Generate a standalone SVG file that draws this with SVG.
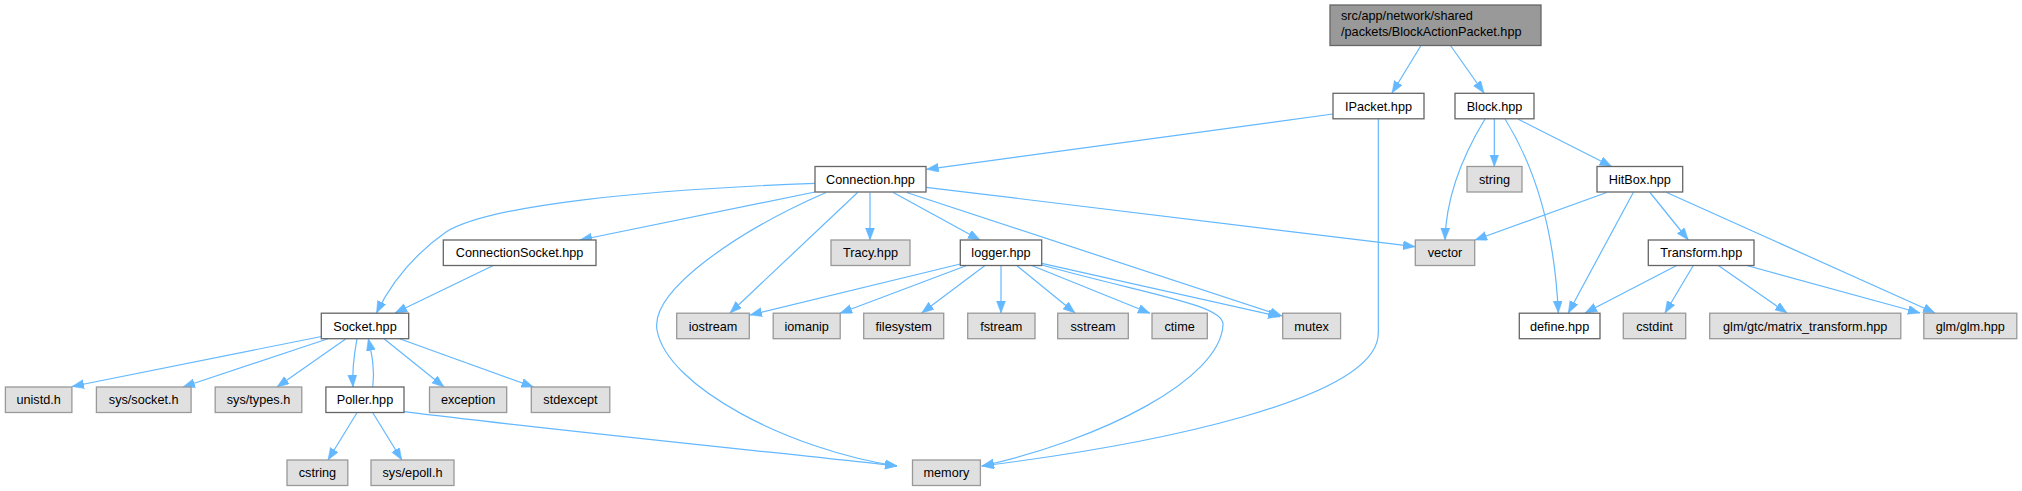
<svg xmlns="http://www.w3.org/2000/svg" width="2022" height="491" viewBox="0 0 2022 491">
<style>
.n rect{fill:#ffffff;stroke:#666666;stroke-width:1.3}
.g rect{fill:#e0e0e0;stroke:#999999;stroke-width:1.3}
.r rect{fill:#999999;stroke:#666666;stroke-width:1.3}
text{font-family:"Liberation Sans",Arial,sans-serif;font-size:12.7px;fill:#000000}
.n text,.g text{text-anchor:middle}
#edges path{fill:none;stroke:#63b8ff;stroke-width:1.2;marker-end:url(#ah)}
</style>
<defs>
<marker id="ah" markerUnits="userSpaceOnUse" markerWidth="13" markerHeight="10" refX="12" refY="4.5" orient="auto">
<path d="M0,0 L12,4.5 L0,9 Z" fill="#63b8ff" stroke="#63b8ff" stroke-width="0.5"/>
</marker>
</defs>
<rect x="0" y="0" width="2022" height="491" fill="#ffffff"/>
<g id="edges">
<path d="M1421,45.5 L1392,93"/>
<path d="M1450.5,45.5 L1484,93"/>
<path d="M1333,114 L926.7,169.3"/>
<path d="M1378.3,119 L1378.3,333 C1378.3,400 1150,445 981.7,466"/>
<path d="M1485,119 C1460,160 1446,200 1445,240"/>
<path d="M1494.3,119 L1494.3,166.5"/>
<path d="M1505,119 C1540,175 1555,240 1558.3,313"/>
<path d="M1518.3,119.3 L1611.7,166.5"/>
<path d="M1606.7,192.5 L1475,240"/>
<path d="M1633.3,192.5 L1568.3,313"/>
<path d="M1650,192.5 L1688.3,240"/>
<path d="M1666.7,192.5 L1935,313"/>
<path d="M1676.7,265.5 L1585,313"/>
<path d="M1693.3,265.5 L1665,313"/>
<path d="M1718.3,265.5 L1787,313"/>
<path d="M1746.7,265.5 L1920,313"/>
<path d="M815,183.3 C640,190 490,205 446,232 C412,256 390,285 376.5,313"/>
<path d="M815,192 L580,240"/>
<path d="M493.3,265.5 L395,313"/>
<path d="M826,192.5 C740,230 650,290 657,330 C667,387 790,450 897,466"/>
<path d="M857.6,192.5 L730,313"/>
<path d="M870,192.5 L870,240"/>
<path d="M893.3,192.5 L980,240"/>
<path d="M906.7,192.5 L1282,316"/>
<path d="M926,187.3 L1415,246.7"/>
<path d="M321.4,336.5 L72,386.5"/>
<path d="M328,338.7 L183,387"/>
<path d="M346,338.7 L277,387"/>
<path d="M357,338.7 C354,355 352,370 353,387"/>
<path d="M372.8,387 C375,370 372,355 368.3,338.7"/>
<path d="M384,338.7 L444,387"/>
<path d="M399.6,338.7 L533.5,387"/>
<path d="M357,412.7 L328,460"/>
<path d="M372.8,412.7 L401.8,460"/>
<path d="M404,411.7 C550,430 800,455 897,466"/>
<path d="M960.3,264 L750,315"/>
<path d="M966.7,265.5 L840,313.3"/>
<path d="M985,265.5 L921.7,313"/>
<path d="M1001,265.5 L1001,313"/>
<path d="M1016.7,265.5 L1075,313"/>
<path d="M1031.7,265.5 L1150,313.3"/>
<path d="M1041.7,263.3 L1280,316.7"/>
<path d="M1041.7,265 C1150,295 1225,305 1223,325 C1220,380 1100,440 982,466"/>
</g>
<g id="root" class="r"><rect x="1330" y="5" width="211" height="40.5"/><text x="1341" y="20.3">src/app/network/shared</text><text x="1341" y="36">/packets/BlockActionPacket.hpp</text></g>
<g id="ipacket" class="n"><rect x="1333" y="93.3" width="91" height="25.5"/><text x="1378.5" y="110.5">IPacket.hpp</text></g>
<g id="block" class="n"><rect x="1455" y="93.3" width="79" height="25.5"/><text x="1494.5" y="110.5">Block.hpp</text></g>
<g id="connection" class="n"><rect x="815" y="166.5" width="111" height="25.5"/><text x="870.5" y="183.8">Connection.hpp</text></g>
<g id="string" class="g"><rect x="1467" y="166.5" width="55" height="25.5"/><text x="1494.5" y="183.8">string</text></g>
<g id="hitbox" class="n"><rect x="1597" y="166.5" width="85.7" height="25.5"/><text x="1639.8" y="183.8">HitBox.hpp</text></g>
<g id="connectionsocket" class="n"><rect x="443.3" y="240" width="152.7" height="25.5"/><text x="519.6" y="257.3">ConnectionSocket.hpp</text></g>
<g id="tracy" class="g"><rect x="831" y="240" width="79" height="25.5"/><text x="870.5" y="257.3">Tracy.hpp</text></g>
<g id="logger" class="n"><rect x="960.3" y="240" width="81.4" height="25.5"/><text x="1001" y="257.3">logger.hpp</text></g>
<g id="vector" class="g"><rect x="1415.3" y="240" width="59.4" height="25.5"/><text x="1445" y="257.3">vector</text></g>
<g id="transform" class="n"><rect x="1648.3" y="240" width="105.7" height="25.5"/><text x="1701.2" y="257.3">Transform.hpp</text></g>
<g id="socket" class="n"><rect x="321.3" y="313.2" width="87.4" height="25.5"/><text x="365" y="330.5">Socket.hpp</text></g>
<g id="iostream" class="g"><rect x="676.7" y="313.2" width="72.6" height="25.5"/><text x="713" y="330.5">iostream</text></g>
<g id="iomanip" class="g"><rect x="773.2" y="313.2" width="67" height="25.5"/><text x="806.7" y="330.5">iomanip</text></g>
<g id="filesystem" class="g"><rect x="863.7" y="313.2" width="80" height="25.5"/><text x="903.7" y="330.5">filesystem</text></g>
<g id="fstream" class="g"><rect x="967.7" y="313.2" width="67.3" height="25.5"/><text x="1001.3" y="330.5">fstream</text></g>
<g id="sstream" class="g"><rect x="1057.7" y="313.2" width="70.6" height="25.5"/><text x="1093" y="330.5">sstream</text></g>
<g id="ctime" class="g"><rect x="1152" y="313.2" width="55.3" height="25.5"/><text x="1179.6" y="330.5">ctime</text></g>
<g id="mutex" class="g"><rect x="1282.7" y="313.2" width="57.9" height="25.5"/><text x="1311.6" y="330.5">mutex</text></g>
<g id="define" class="n"><rect x="1519.3" y="313.2" width="80.7" height="25.5"/><text x="1559.6" y="330.5">define.hpp</text></g>
<g id="cstdint" class="g"><rect x="1623.3" y="313.2" width="62.4" height="25.5"/><text x="1654.5" y="330.5">cstdint</text></g>
<g id="matrix_transform" class="g"><rect x="1709.7" y="313.2" width="191.1" height="25.5"/><text x="1805.2" y="330.5">glm/gtc/matrix_transform.hpp</text></g>
<g id="glm" class="g"><rect x="1923.8" y="313.2" width="93" height="25.5"/><text x="1970.3" y="330.5">glm/glm.hpp</text></g>
<g id="unistd" class="g"><rect x="5.4" y="387" width="66.5" height="25.5"/><text x="38.6" y="404.3">unistd.h</text></g>
<g id="syssocket" class="g"><rect x="96.4" y="387" width="94.7" height="25.5"/><text x="143.7" y="404.3">sys/socket.h</text></g>
<g id="systypes" class="g"><rect x="215.2" y="387" width="86.6" height="25.5"/><text x="258.5" y="404.3">sys/types.h</text></g>
<g id="poller" class="n"><rect x="325.9" y="387" width="78.1" height="25.5"/><text x="365" y="404.3">Poller.hpp</text></g>
<g id="exception" class="g"><rect x="429.5" y="387" width="77.2" height="25.5"/><text x="468.1" y="404.3">exception</text></g>
<g id="stdexcept" class="g"><rect x="531.3" y="387" width="78.5" height="25.5"/><text x="570.5" y="404.3">stdexcept</text></g>
<g id="cstring" class="g"><rect x="287" y="460" width="60.8" height="25.5"/><text x="317.4" y="477.3">cstring</text></g>
<g id="sysepoll" class="g"><rect x="371" y="460" width="83" height="25.5"/><text x="412.5" y="477.3">sys/epoll.h</text></g>
<g id="memory" class="g"><rect x="912.5" y="460" width="67.9" height="25.5"/><text x="946.4" y="477.3">memory</text></g>
</svg>
